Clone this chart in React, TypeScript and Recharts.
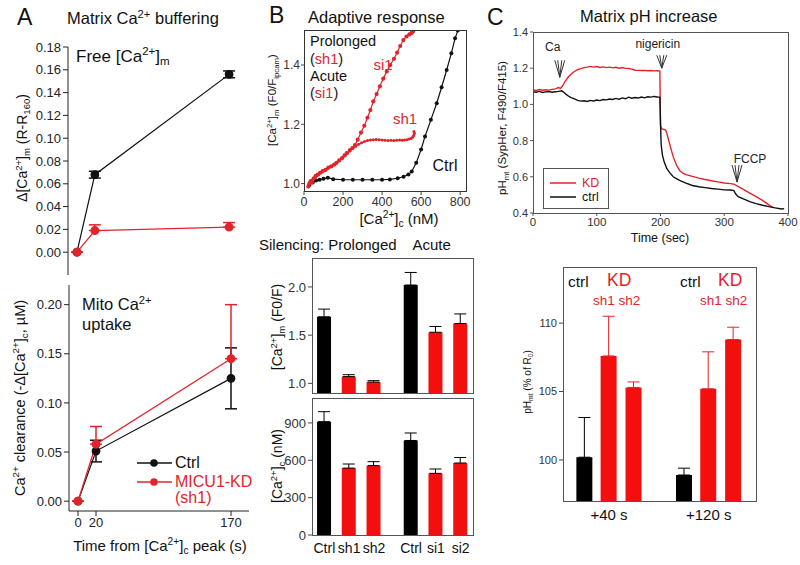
import React from "react";
import { LineChart, Line, XAxis, YAxis, BarChart, Bar, ErrorBar, ReferenceDot } from "recharts";

// ---- Panel A: matrix Ca buffering ----
const aTimes = [0, 20, 170];
const aTimeTicks = [0, 20, 170];
const aFreeTicks = [0, 0.02, 0.04, 0.06, 0.08, 0.1, 0.12, 0.14, 0.16, 0.18];
const aFreeCtrl = [0, 0.068, 0.156];
const aFreeCtrlErr = [0, 0.003, 0.003];
const aFreeKD = [0, 0.019, 0.022];
const aFreeKDErr = [0, 0.005, 0.004];
const aUptakeTicks = [0, 0.05, 0.1, 0.15, 0.2];
const aUptakeCtrl = [0, 0.051, 0.125];
const aUptakeCtrlErr = [0, 0.011, 0.031];
const aUptakeKD = [0, 0.058, 0.145];
const aUptakeKDErr = [0, 0.018, 0.055];

// ---- Panel B top: adaptive response ----
const bXTicks = [0, 200, 400, 600, 800];
const bYTicks = [1.0, 1.2, 1.4];
const bSi1X = [22, 28, 34, 40, 50, 60, 70, 82, 95, 110, 125, 140, 155, 167, 180, 195, 208, 219, 235, 248, 261, 275, 292, 309, 325, 340, 355, 372, 389, 406, 424, 442, 461, 477, 493, 509, 525, 540, 552, 558, 556];
const bSi1Y = [0.99, 1.0, 1.008, 1.004, 1.018, 1.026, 1.03, 1.036, 1.042, 1.046, 1.054, 1.058, 1.064, 1.07, 1.078, 1.086, 1.095, 1.103, 1.113, 1.12, 1.13, 1.148, 1.172, 1.195, 1.222, 1.248, 1.277, 1.302, 1.328, 1.354, 1.378, 1.4, 1.421, 1.442, 1.464, 1.484, 1.496, 1.503, 1.508, 1.513, 1.517];
const bSh1X = [24, 30, 38, 48, 60, 75, 90, 105, 120, 135, 150, 165, 180, 195, 210, 222, 235, 250, 265, 280, 295, 310, 325, 340, 355, 370, 385, 400, 415, 430, 445, 460, 475, 490, 503, 515, 527, 538, 548, 556, 562, 566, 563];
const bSh1Y = [0.995, 1.004, 1.01, 1.016, 1.022, 1.03, 1.038, 1.045, 1.05, 1.057, 1.063, 1.07, 1.077, 1.085, 1.094, 1.102, 1.11, 1.118, 1.126, 1.133, 1.138, 1.142, 1.145, 1.147, 1.148, 1.149, 1.148, 1.147, 1.146, 1.145, 1.146, 1.145, 1.146, 1.147, 1.146, 1.147, 1.148, 1.15, 1.152, 1.156, 1.162, 1.17, 1.176];
const bCtrlX = [28, 45, 62, 80, 100, 122, 150, 200, 250, 300, 350, 400, 440, 480, 510, 535, 552, 575, 600, 620, 650, 680, 705, 731, 755, 774, 788];
const bCtrlY = [0.995, 1.004, 1.01, 1.013, 1.016, 1.02, 1.015, 1.013, 1.013, 1.013, 1.013, 1.013, 1.014, 1.018, 1.023, 1.031, 1.041, 1.07, 1.115, 1.159, 1.215, 1.271, 1.325, 1.383, 1.44, 1.49, 1.516];

// ---- Panel B bars: silencing ----
const bBarLabels = ["Ctrl", "sh1", "sh2", "Ctrl", "si1", "si2"];
const bMatrixTicks = [1.0, 1.5, 2.0];
const bMatrixVals = [1.69, 1.07, 1.013, 2.02, 1.53, 1.62];
const bMatrixErr = [0.08, 0.02, 0.015, 0.13, 0.06, 0.1];
const bCytoTicks = [0, 300, 600, 900];
const bCytoVals = [910, 537, 557, 759, 495, 578];
const bCytoErr = [80, 33, 32, 60, 35, 44];

// ---- Panel C top: matrix pH trace ----
const cXTicks = [0, 100, 200, 300, 400];
const cYTicks = [0.4, 0.6, 0.8, 1.0, 1.2, 1.4];
const cKDTime = [0, 5, 10, 15, 20, 25, 30, 35, 40, 43, 46, 50, 55, 60, 65, 70, 75, 80, 85, 90, 95, 100, 105, 110, 115, 120, 125, 130, 135, 140, 145, 150, 155, 160, 165, 170, 175, 180, 185, 190, 195, 199, 200, 202, 205, 208, 210, 213, 216, 220, 225, 230, 235, 240, 250, 260, 270, 280, 290, 300, 310, 316, 320, 325, 330, 340, 350, 360, 370, 376];
const cKDVal = [1.08, 1.077, 1.082, 1.078, 1.081, 1.079, 1.083, 1.086, 1.093, 1.088, 1.1, 1.125, 1.15, 1.168, 1.182, 1.192, 1.198, 1.203, 1.206, 1.21, 1.206, 1.209, 1.204, 1.207, 1.203, 1.206, 1.202, 1.205, 1.2, 1.204, 1.199, 1.198, 1.195, 1.189, 1.188, 1.187, 1.188, 1.186, 1.187, 1.185, 1.186, 1.184, 0.88, 0.865, 0.862, 0.858, 0.84, 0.8, 0.76, 0.71, 0.665, 0.635, 0.62, 0.612, 0.602, 0.593, 0.585, 0.578, 0.572, 0.566, 0.562, 0.558, 0.55, 0.54, 0.53, 0.51, 0.49, 0.47, 0.445, 0.43];
const cCtrlTime = [0, 5, 10, 15, 20, 25, 30, 35, 40, 45, 48, 52, 56, 60, 65, 70, 75, 80, 85, 90, 95, 100, 105, 110, 115, 120, 125, 130, 135, 140, 145, 150, 155, 160, 165, 170, 175, 180, 185, 190, 195, 199, 200, 201, 203, 206, 210, 215, 220, 225, 230, 240, 250, 260, 270, 280, 290, 300, 310, 315, 318, 322, 330, 340, 350, 360, 370, 380, 390, 394];
const cCtrlVal = [1.07, 1.067, 1.072, 1.066, 1.069, 1.071, 1.067, 1.07, 1.072, 1.075, 1.068, 1.055, 1.045, 1.037, 1.03, 1.022, 1.018, 1.02, 1.016, 1.022, 1.019, 1.024, 1.021, 1.027, 1.025, 1.03, 1.027, 1.033, 1.029, 1.036, 1.031, 1.04, 1.034, 1.038, 1.035, 1.041, 1.036, 1.042, 1.04, 1.044, 1.041, 1.04, 0.9, 0.78, 0.72, 0.68, 0.645, 0.62, 0.6, 0.59, 0.58, 0.565, 0.552, 0.545, 0.54, 0.535, 0.532, 0.528, 0.527, 0.524, 0.505, 0.49, 0.478, 0.463, 0.452, 0.443, 0.435, 0.428, 0.422, 0.424];

// ---- Panel C bars: pH at +40 s / +120 s ----
const cGroups = ["+40 s", "+120 s"];
const cBarLabels = ["ctrl", "sh1", "sh2"];
const cBarTicks = [100, 105, 110];
const cBar40 = [100.2, 107.6, 105.3];
const cBar40Err = [2.9, 2.9, 0.4];
const cBar120 = [98.9, 105.2, 108.8];
const cBar120Err = [0.5, 2.7, 0.9];

const RED = "#e3232a";
const BAR_RED = "#f40f0f";
const MT = 10;
const MR = 10;

const Sup = ({ children }: any) => <span style={{ fontSize: "0.68em", verticalAlign: "0.55em", lineHeight: 0 }}>{children}</span>;
const Sub = ({ children }: any) => <span style={{ fontSize: "0.68em", verticalAlign: "-0.3em", lineHeight: 0 }}>{children}</span>;

function T({ x, y, s = 14, c = "#111", rot = false, left = false, children }: any) {
  const transform = rot ? "translate(-50%,-50%) rotate(-90deg)" : left ? "translateY(-50%)" : "translate(-50%,-50%)";
  return (
    <div style={{ position: "absolute", left: x, top: y, fontSize: s, color: c, whiteSpace: "pre", lineHeight: 1, transform }}>
      {children}
    </div>
  );
}

function Frame({ r, color = "#444" }: any) {
  return <div style={{ position: "absolute", left: r[0], top: r[1], width: r[2] - r[0] + 1, height: r[3] - r[1] + 1, border: `1px solid ${color}`, boxSizing: "border-box", pointerEvents: "none" }} />;
}

const zip = (xs: number[], ys: number[]) => xs.map((x, i) => ({ x, y: ys[i] }));

function BarPanel({ r, yw, xh, rows, xDomain, yDomain, yTicks, yFmt, xTicks, xFmt, barSize, redErr, fs, xfs }: any) {
  const w = r[2] - r[0];
  const h = r[3] - r[1];
  const W = w + yw + MR;
  const H = h + MT + xh;
  const pos: React.CSSProperties = { position: "absolute", left: r[0] - yw, top: r[1] - MT };
  const blackRows = rows.filter((d: any) => d.black);
  const redRows = rows.filter((d: any) => !d.black);
  return (
    <>
      <div style={pos}>
        <BarChart width={W} height={H} data={blackRows} margin={{ top: MT, right: MR, left: 0, bottom: 0 }}>
          <XAxis type="number" dataKey="x" domain={xDomain} ticks={xTicks} tickFormatter={xFmt} interval={0} hide={!xh} height={xh} axisLine={false} tickLine={false} allowDataOverflow tick={{ fontSize: xfs, fill: "#111" }} />
          <YAxis type="number" domain={yDomain} ticks={yTicks} tickFormatter={yFmt} width={yw} axisLine={false} tickSize={4} stroke="#444" allowDataOverflow tick={{ fontSize: fs, fill: "#333" }} />
          <Bar dataKey="v" fill="#000" barSize={barSize} isAnimationActive={false}>
            <ErrorBar dataKey="err" width={6} stroke="#000" strokeWidth={1} direction="y" />
          </Bar>
        </BarChart>
      </div>
      <div style={pos}>
        <BarChart width={W} height={H} data={redRows} margin={{ top: MT, right: MR, left: yw, bottom: xh }}>
          <XAxis type="number" dataKey="x" domain={xDomain} hide allowDataOverflow />
          <YAxis type="number" domain={yDomain} hide allowDataOverflow />
          <Bar dataKey="v" fill={BAR_RED} barSize={barSize} isAnimationActive={false}>
            <ErrorBar dataKey="err" width={6} stroke={redErr} strokeWidth={1} direction="y" />
          </Bar>
        </BarChart>
      </div>
      <Frame r={r} color="#555" />
    </>
  );
}

const arrowShape = (label: string, len: number, dx: number, dy: number) => (p: any) => {
  const { cx, cy } = p;
  const d = `M${cx - 5},${cy - len}L${cx},${cy}L${cx + 5},${cy - len}M${cx - 2},${cy - len}L${cx},${cy}L${cx + 2},${cy - len}`;
  return (
    <g>
      <path d={d} stroke="#333" strokeWidth={1} fill="none" />
      <text x={cx + dx} y={cy + dy} textAnchor="middle" dominantBaseline="middle" fontSize={12} fill="#222">{label}</text>
    </g>
  );
};

export default function App() {
  const aFreeRows = aTimes.map((t, i) => ({ t, ctrl: aFreeCtrl[i], ctrlErr: aFreeCtrlErr[i], kd: aFreeKD[i], kdErr: [0, aFreeKDErr[i]] }));
  const aUpRows = aTimes.map((t, i) => ({ t, ctrl: aUptakeCtrl[i], ctrlErr: aUptakeCtrlErr[i], kd: aUptakeKD[i], kdErr: [0, aUptakeKDErr[i]] }));

  const bPos = bBarLabels.map((_, i) => i + 1 + (i >= 3 ? 0.5 : 0));
  const bMatrixRows = bBarLabels.map((l, i) => ({ x: bPos[i], v: bMatrixVals[i], err: [0, bMatrixErr[i]], black: l === "Ctrl" }));
  const bCytoRows = bBarLabels.map((l, i) => ({ x: bPos[i], v: bCytoVals[i], err: [0, bCytoErr[i]], black: l === "Ctrl" }));
  const bFmt = (v: number) => bBarLabels[bPos.indexOf(v)] ?? "";

  const cRows: any[] = [];
  [cBar40, cBar120].forEach((vals, g) => {
    const errs = g === 0 ? cBar40Err : cBar120Err;
    vals.forEach((v, i) => cRows.push({ x: g * 4 + i + 1, v, err: [0, errs[i]], black: cBarLabels[i] === "ctrl" }));
  });
  const cGroupPos = cGroups.map((_, g) => g * 4 + 2);
  const cFmt = (v: number) => cGroups[cGroupPos.indexOf(v)] ?? "";

  const tk13 = { fontSize: 13, fill: "#222" };

  return (
    <div style={{ position: "absolute", left: 0, top: 0, width: 800, height: 565, background: "#fff", overflow: "hidden", fontFamily: '"Liberation Sans", Arial, sans-serif', color: "#111" }}>
      {/* ---------- A top ---------- */}
      <div style={{ position: "absolute", left: 68 - 50, top: 47 - MT }}>
        <LineChart width={179 + 50 + MR} height={228 + MT} data={aFreeRows} margin={{ top: MT, right: MR, left: 0, bottom: 0 }}>
          <XAxis type="number" dataKey="t" domain={[-10, 190]} hide allowDataOverflow />
          <YAxis type="number" domain={[-0.02, 0.18]} ticks={aFreeTicks} tickFormatter={(v: number) => v.toFixed(2)} width={50} tick={tk13} tickSize={5} stroke="#222" allowDataOverflow />
          <Line dataKey="ctrl" stroke="#111" strokeWidth={1.2} dot={{ r: 3.8, fill: "#111", stroke: "#111" }} isAnimationActive={false}>
            <ErrorBar dataKey="ctrlErr" width={6} stroke="#111" direction="y" />
          </Line>
          <Line dataKey="kd" stroke={RED} strokeWidth={1.3} dot={{ r: 3.8, fill: RED, stroke: RED }} isAnimationActive={false}>
            <ErrorBar dataKey="kdErr" width={6} stroke={RED} direction="y" />
          </Line>
        </LineChart>
      </div>

      {/* ---------- A bottom ---------- */}
      <div style={{ position: "absolute", left: 69 - 50, top: 285 - MT }}>
        <LineChart width={180 + 50 + MR} height={226 + MT + 30} data={aUpRows} margin={{ top: MT, right: MR, left: 0, bottom: 0 }}>
          <XAxis type="number" dataKey="t" domain={[-10, 190]} ticks={aTimeTicks} interval={0} height={30} tick={tk13} tickSize={5} stroke="#222" allowDataOverflow />
          <YAxis type="number" domain={[-0.01, 0.22]} ticks={aUptakeTicks} tickFormatter={(v: number) => v.toFixed(2)} width={50} tick={tk13} tickSize={5} stroke="#222" allowDataOverflow />
          <Line dataKey="ctrl" stroke="#111" strokeWidth={1.2} dot={{ r: 3.8, fill: "#111", stroke: "#111" }} isAnimationActive={false}>
            <ErrorBar dataKey="ctrlErr" width={6} stroke="#111" direction="y" />
          </Line>
          <Line dataKey="kd" stroke={RED} strokeWidth={1.3} dot={{ r: 3.8, fill: RED, stroke: RED }} isAnimationActive={false}>
            <ErrorBar dataKey="kdErr" width={6} stroke={RED} direction="y" />
          </Line>
        </LineChart>
      </div>

      {/* A legend */}
      <svg style={{ position: "absolute", left: 130, top: 450 }} width={50} height={40}>
        <line x1={7} y1={13} x2={42} y2={13} stroke="#111" strokeWidth={1.3} />
        <circle cx={24} cy={13} r={3.8} fill="#111" />
        <line x1={7} y1={32} x2={42} y2={32} stroke={RED} strokeWidth={1.3} />
        <circle cx={24} cy={32} r={3.8} fill={RED} />
      </svg>
      <T x={175} y={463} s={16} left>Ctrl</T>
      <T x={175} y={482} s={16} c={RED} left>MICU1-KD</T>
      <T x={175} y={498} s={16} c={RED} left>(sh1)</T>

      {/* A texts */}
      <T x={17} y={17} s={23} left>A</T>
      <T x={67} y={18} s={16.5} left>Matrix Ca<Sup>2+</Sup> buffering</T>
      <T x={76} y={56} s={17} left>Free [Ca<Sup>2+</Sup>]<Sub>m</Sub></T>
      <T x={82} y={304} s={16.5} left>Mito Ca<Sup>2+</Sup></T>
      <T x={82} y={324} s={16.5} left>uptake</T>
      <T x={22} y={148} s={14} rot>Δ[Ca<Sup>2+</Sup>]<Sub>m</Sub> (R-R<Sub>160</Sub>)</T>
      <T x={20} y={398} s={14.5} rot>Ca<Sup>2+</Sup> clearance (-Δ[Ca<Sup>2+</Sup>]<Sub>c</Sub>, µM)</T>
      <T x={160} y={545} s={15} >Time from [Ca<Sup>2+</Sup>]<Sub>c</Sub> peak (s)</T>

      {/* ---------- B top ---------- */}
      <div style={{ position: "absolute", left: 304 - 35, top: 30 - MT }}>
        <LineChart width={162 + 35 + MR} height={161 + MT + 25} margin={{ top: MT, right: MR, left: 0, bottom: 0 }}>
          <XAxis type="number" dataKey="x" domain={[0, 830]} ticks={bXTicks} interval={0} height={25} axisLine={false} tickSize={4} stroke="#444" tick={{ fontSize: 12.5, fill: "#333" }} allowDataOverflow />
          <YAxis type="number" domain={[0.975, 1.518]} ticks={bYTicks} tickFormatter={(v: number) => v.toFixed(1)} width={35} axisLine={false} tickSize={3} tickMargin={1} stroke="#444" tick={{ fontSize: 12, fill: "#333" }} allowDataOverflow />
          <Line data={zip(bCtrlX, bCtrlY)} dataKey="y" stroke="#111" strokeWidth={1.2} dot={{ r: 2, fill: "#111", stroke: "none" }} isAnimationActive={false} />
          <Line data={zip(bSh1X, bSh1Y)} dataKey="y" stroke={RED} strokeWidth={1.2} dot={{ r: 1.5, fill: RED, stroke: "none" }} isAnimationActive={false} />
          <Line data={zip(bSi1X, bSi1Y)} dataKey="y" stroke={RED} strokeWidth={1.2} dot={{ r: 2.1, fill: RED, stroke: "none" }} isAnimationActive={false} />
        </LineChart>
      </div>
      <Frame r={[304, 30, 466, 191]} color="#333" />
      <T x={269} y={15} s={23} left>B</T>
      <T x={308} y={17} s={16.5} left>Adaptive response</T>
      <T x={310} y={41} s={14.5} left>Prolonged</T>
      <T x={310} y={59} s={14.5} left>(<span style={{ color: RED }}>sh1</span>)</T>
      <T x={310} y={76} s={14.5} left>Acute</T>
      <T x={310} y={93} s={14.5} left>(<span style={{ color: RED }}>si1</span>)</T>
      <T x={383} y={64} s={15} c={RED}>si1</T>
      <T x={405} y={118} s={15} c={RED}>sh1</T>
      <T x={445} y={166} s={16}>Ctrl</T>
      <T x={399} y={218} s={15}>[Ca<Sup>2+</Sup>]<Sub>c</Sub> (nM)</T>
      <T x={273} y={100} s={11.5} rot>[Ca<Sup>2+</Sup>]<Sub>m</Sub> (F0/F<Sub>ipcam</Sub>)</T>

      {/* ---------- B bars ---------- */}
      <T x={259} y={244} s={15} left>{"Silencing: Prolonged    Acute"}</T>
      <BarPanel r={[312, 258, 473, 393]} yw={35} xh={0} rows={bMatrixRows} xDomain={[0.5, 7]} yDomain={[0.9, 2.3]} yTicks={bMatrixTicks} yFmt={(v: number) => v.toFixed(1)} barSize={14} redErr="#000" fs={13} xfs={14} />
      <BarPanel r={[312, 398, 473, 535]} yw={35} xh={28} rows={bCytoRows} xDomain={[0.5, 7]} yDomain={[0, 1100]} yTicks={bCytoTicks} yFmt={(v: number) => String(v)} xTicks={bPos} xFmt={bFmt} barSize={14} redErr="#000" fs={13} xfs={14} />
      <T x={277} y={327} s={14} rot>[Ca<Sup>2+</Sup>]<Sub>m</Sub> (F0/F)</T>
      <T x={277} y={466} s={14} rot>[Ca<Sup>2+</Sup>]<Sub>c</Sub> (nM)</T>

      {/* ---------- C top ---------- */}
      <div style={{ position: "absolute", left: 533 - 30, top: 32 - MT }}>
        <LineChart width={255 + 30 + MR} height={181 + MT + 20} margin={{ top: MT, right: MR, left: 0, bottom: 0 }}>
          <XAxis type="number" dataKey="x" domain={[0, 400]} ticks={cXTicks} interval={0} height={20} axisLine={false} tickSize={3} stroke="#555" tick={{ fontSize: 11.5, fill: "#333" }} allowDataOverflow />
          <YAxis type="number" domain={[0.4, 1.4]} ticks={cYTicks} tickFormatter={(v: number) => v.toFixed(1)} width={30} axisLine={false} tickSize={3} stroke="#555" tick={{ fontSize: 11, fill: "#333" }} allowDataOverflow />
          <Line data={zip(cKDTime, cKDVal)} dataKey="y" stroke={RED} strokeWidth={1.4} dot={false} isAnimationActive={false} />
          <Line data={zip(cCtrlTime, cCtrlVal)} dataKey="y" stroke="#111" strokeWidth={1.4} dot={false} isAnimationActive={false} />
          <ReferenceDot x={42} y={1.15} shape={arrowShape("Ca", 17, -7, -29)} />
          <ReferenceDot x={202} y={1.2} shape={arrowShape("nigericin", 13, -4, -23)} />
          <ReferenceDot x={320} y={0.571} shape={arrowShape("FCCP", 17, 13, -22)} />
        </LineChart>
      </div>
      <Frame r={[533, 32, 788, 213]} color="#555" />
      <div style={{ position: "absolute", left: 543, top: 168, width: 66, height: 41, border: "1px solid #555", boxSizing: "border-box", background: "#fff" }} />
      <svg style={{ position: "absolute", left: 548, top: 178 }} width={30} height={24}>
        <line x1={2} y1={5} x2={28} y2={5} stroke={RED} strokeWidth={1.5} />
        <line x1={2} y1={19} x2={28} y2={19} stroke="#111" strokeWidth={1.5} />
      </svg>
      <T x={582} y={183} s={12.5} c={RED} left>KD</T>
      <T x={582} y={197} s={12.5} left>ctrl</T>
      <T x={487} y={17} s={23} left>C</T>
      <T x={580} y={16} s={16.5} left>Matrix pH increase</T>
      <T x={660} y={238} s={12.5}>Time (sec)</T>
      <T x={503} y={128} s={11.5} rot>pH<Sub>mt</Sub> (SypHer, F490/F415)</T>

      {/* ---------- C bars ---------- */}
      <BarPanel r={[563, 267, 756, 501]} yw={30} xh={25} rows={cRows} xDomain={[0.15, 7.9]} yDomain={[97, 114.1]} yTicks={cBarTicks} yFmt={(v: number) => String(v)} xTicks={cGroupPos} xFmt={cFmt} barSize={16} redErr={RED} fs={11} xfs={15} />
      <T x={568} y={282} s={15.5} left>ctrl</T>
      <T x={607} y={281} s={17.5} c={RED} left>KD</T>
      <T x={593} y={301} s={13.5} c={RED} left>sh1 sh2</T>
      <T x={680} y={282} s={15.5} left>ctrl</T>
      <T x={718} y={281} s={17.5} c={RED} left>KD</T>
      <T x={700} y={301} s={13.5} c={RED} left>sh1 sh2</T>
      <T x={528} y={382} s={10} rot>pH<Sub>mt</Sub> (% of R<Sub>0</Sub>)</T>
    </div>
  );
}
